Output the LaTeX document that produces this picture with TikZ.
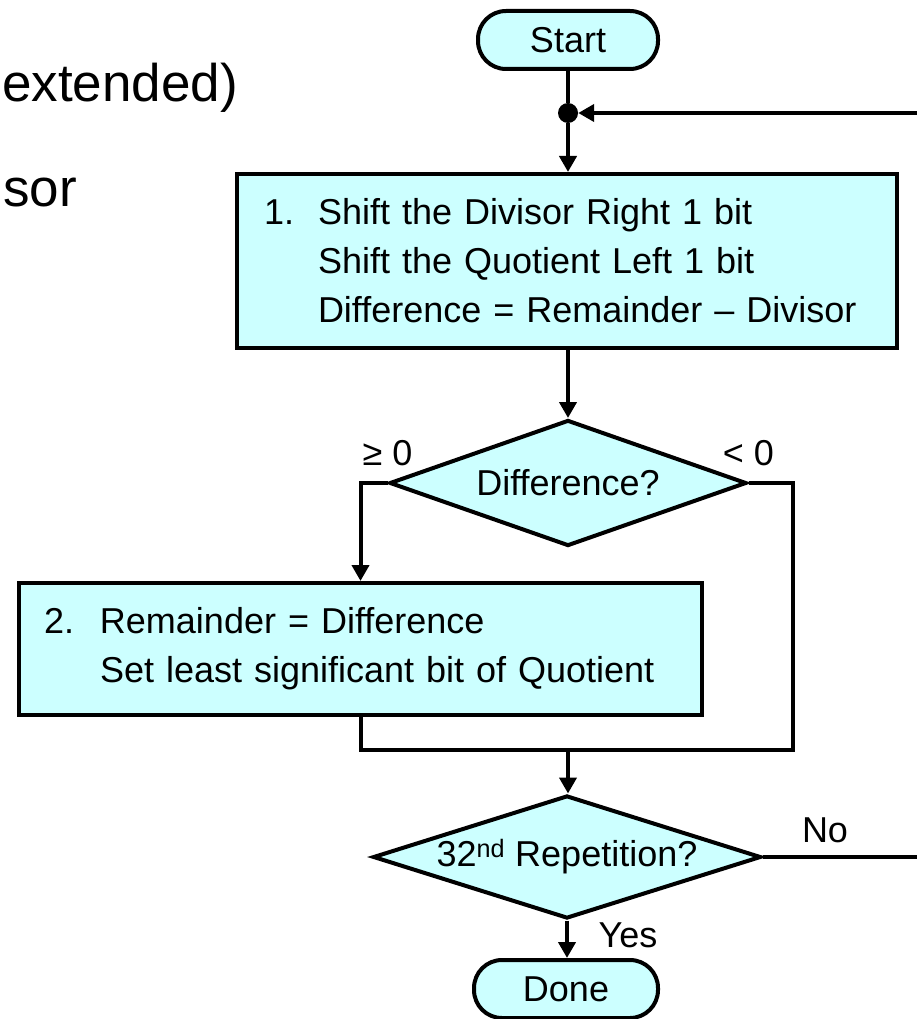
\documentclass[tikz,border=0pt]{standalone}
\usepackage{fontspec}
\setmainfont{Liberation Sans}
\usetikzlibrary{arrows.meta,shapes.geometric}

\definecolor{boxfill}{HTML}{CCFFFF}

\begin{document}
\begin{tikzpicture}[>={Triangle[length=16pt,width=17pt]},x=1pt,y=-1pt]

% ----------------------------
% Styles
% ----------------------------
\tikzset{
	body/.style={font=\fontsize{36}{49}\selectfont},
	slide/.style={font=\fontsize{53}{60}\selectfont,anchor=west,inner sep=0pt},
	term/.style={body,draw,line width=4pt,fill=boxfill,rounded corners=28pt,minimum height=58pt,inner sep=0pt},
	stepbox/.style={body,draw,line width=4pt,fill=boxfill,align=left,inner ysep=0pt},
	test/.style={body,draw,line width=4pt,fill=boxfill,diamond,inner sep=0pt},
	lbl/.style={body,inner sep=0pt},
	flow/.style={->,line width=4pt},
	wire/.style={line width=4pt}
}

\useasboundingbox (0,0) rectangle (917,1019);

% ============================================================
% Cut-off slide text on the left
% ============================================================
\node[slide] (ext) at (2,88) {extended)};
\node[slide] (sor) at (3,192) {sor};

% ============================================================
% Nodes
% ============================================================
\node[term,minimum width=180pt] (start) at (568,40) {Start};
\node[circle,fill,inner sep=0pt,minimum size=20pt] (join) at (568,113) {};
\coordinate (back) at (917,113);

\node[stepbox,minimum width=660pt,minimum height=174pt,
	inner xsep=27pt,text width=606pt] (shift) at (567,261)
	{\makebox[54pt][l]{1.}Shift the Divisor Right 1 bit\\
	 \hspace*{54pt}Shift the Quotient Left 1 bit\\
	 \hspace*{54pt}Difference = Remainder -- Divisor};

\node[test,aspect=2.83,minimum width=357pt,minimum height=126pt] (diff) at (568,483) {Difference?};

\node[stepbox,minimum width=683pt,minimum height=132pt,
	inner xsep=25pt,text width=633pt] (setbit) at (360.5,649)
	{\makebox[56pt][l]{2.}Remainder = Difference\\
	 \hspace*{56pt}Set least significant bit of Quotient};

\coordinate (merge) at (568,750);
\coordinate (rjog) at (793,750);

\node[test,aspect=3.2,minimum width=388pt,minimum height=123pt] (rep) at (567,857)
	{32\textsuperscript{nd} Repetition?};
\coordinate (noend) at (917,857);

\node[term,minimum width=184pt] (done) at (566,989) {Done};

% ============================================================
% Connectors
% ============================================================
\draw[wire] (start) -- (join);
\draw[flow] (back) -- (join);
\draw[flow] (join) -- (join |- shift.north);
\draw[flow] (shift.south -| diff) -- (diff);

% branches of the test
\draw[flow] (diff.west) -| (setbit.north);
\draw[wire] (diff.east) -| (rjog) -- (merge);
\draw[wire] (setbit.south) |- (merge);
\node[lbl] (ge) at ([yshift=30pt]diff.west) {≥ 0};
\node[lbl] (lt) at ([yshift=30pt]diff.east) {< 0};

\draw[flow] (merge) -- (merge |- rep.north);
\draw[wire] (rep.east) -- (noend);
\node[lbl] (no) at (825,830) {No};
\draw[flow] (rep) -- (rep |- done.north);
\node[lbl] (yes) at (628,935) {Yes};

\end{tikzpicture}
\end{document}
